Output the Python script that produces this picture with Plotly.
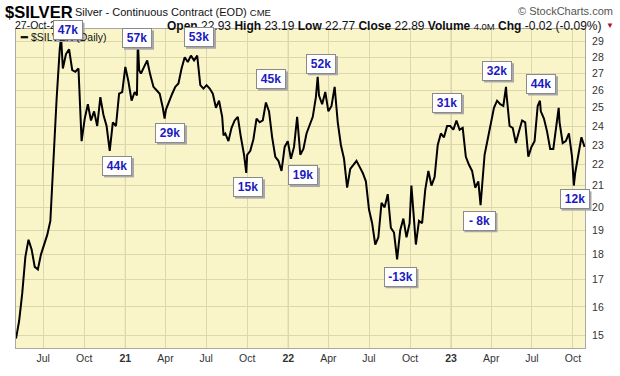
import plotly.graph_objects as go
import pandas as pd
import math

# ---------------- data ----------------
week_start = "2020-05-01"
weekly_close = [
    14.9, 15.5, 16.5, 17.9, 18.6, 18.2, 17.5, 17.4, 18.0, 18.4,
    18.8, 19.4, 22.6, 25.5, 28.5, 27.3, 28.2, 28.5, 27.2, 27.1,
    27.3, 23.2, 24.4, 25.2, 24.3, 24.8, 24.0, 25.6, 24.6, 24.0,
    22.7, 24.2, 24.0, 25.8, 25.9, 27.4, 26.5, 25.4, 25.9, 29.0,
    27.0, 27.4, 27.8, 26.9, 26.2, 26.0, 25.8, 25.0, 24.9, 25.4,
    25.8, 26.2, 26.4, 27.3, 28.0, 27.7, 28.1, 27.8, 28.1, 26.3,
    26.1, 26.3, 26.1, 25.8, 25.0, 25.4, 24.5, 23.6, 23.2, 23.9,
    24.3, 24.5, 23.4, 22.5, 22.5, 22.7, 23.3, 24.4, 24.2, 24.3,
    25.3, 24.8, 23.4, 22.4, 22.2, 21.7, 22.9, 23.2, 22.3, 22.9,
    24.5, 22.5, 22.8, 23.6, 24.0, 24.5, 25.6, 25.7, 25.2, 25.9,
    24.8, 25.1, 26.2, 24.2, 23.0, 22.3, 20.9, 21.8, 22.0, 22.2,
    21.9, 21.6, 21.2, 19.9, 19.3, 18.4, 18.7, 20.2, 20.0, 20.6,
    19.1, 18.9, 17.8, 19.0, 19.5, 18.7, 19.3, 20.2, 18.4, 19.4,
    19.3, 20.8, 21.7, 21.0, 21.4, 23.0, 23.6, 23.4, 24.0, 24.0,
    23.8, 24.3, 23.8, 23.9, 22.4, 22.0, 21.7, 20.9, 21.2, 20.6,
    22.5, 23.3, 24.1, 25.0, 25.4, 25.2, 25.1, 25.8, 24.0, 23.9,
    23.1, 23.7, 24.3, 24.2, 22.4, 22.9, 23.2, 25.1, 24.8, 24.4,
    23.7, 22.8, 22.8, 24.2, 24.2, 23.1, 23.2, 23.6, 22.4, 21.6,
    22.4, 23.4, 22.9,
]
extra_dates = ["2020-08-10", "2021-01-27", "2021-02-01", "2021-03-30",
               "2021-08-09", "2021-09-29", "2022-03-08", "2022-10-04",
               "2023-03-08", "2023-05-04", "2023-07-19", "2023-08-30",
               "2023-10-03"]
extra_close = [29.3, 25.7, 27.2, 24.4, 23.5, 21.6, 26.8, 21.0,
               20.1, 26.2, 25.4, 25.0, 21.0]

y_ticks = [15, 16, 17, 18, 19, 20, 21, 22, 23, 24, 25, 26, 27, 28, 29]
x_tick_dates = ["2020-07-01", "2020-10-01", "2021-01-01", "2021-04-01",
                "2021-07-01", "2021-10-01", "2022-01-01", "2022-04-01",
                "2022-07-01", "2022-10-01", "2023-01-01", "2023-04-01",
                "2023-07-01", "2023-10-01"]
x_tick_labels = ["Jul", "Oct", "<b>21</b>", "Apr", "Jul", "Oct", "<b>22</b>",
                 "Apr", "Jul", "Oct", "<b>23</b>", "Apr", "Jul", "Oct"]
year_lines = ["2021-01-01", "2022-01-01", "2023-01-01"]

volume_labels = ["47k", "57k", "53k", "44k", "29k", "45k", "15k", "52k",
                 "19k", "-13k", "31k", "- 8k", "32k", "44k", "12k"]

# ---------------- build series ----------------
wdates = pd.date_range(week_start, periods=len(weekly_close), freq="7D")
s = pd.Series(weekly_close, index=wdates)
s = pd.concat([s, pd.Series(extra_close, index=pd.to_datetime(extra_dates))]).sort_index()

# ---------------- geometry (pixels) ----------------
W, H = 620, 376
L, R, T, B = 16, 585, 29, 360
PW, PH = R - L, B - T
def px(x): return (x - L) / PW
def py(y): return (B - y) / PH

label_pos = [(67.5, 30.5), (137, 38.5), (199, 37.5), (117, 171), (170, 137),
             (271, 81), (248, 193), (321, 65), (303, 181), (400, 286),
             (447, 105.5), (479, 228), (497, 72.5), (541, 86), (574.5, 205.5)]

FONT = "Arial, Liberation Sans, sans-serif"

fig = go.Figure()
fig.add_trace(go.Scatter(x=s.index, y=s.values, mode="lines",
                         line=dict(color="black", width=2), hoverinfo="skip"))

grid = "#DCD8AE"
fig.update_layout(
    width=W, height=H, autosize=False,
    margin=dict(l=L, r=W - R, t=T, b=H - B, pad=0),
    paper_bgcolor="white", plot_bgcolor="#F9F5C9",
    showlegend=False,
    font=dict(family=FONT, color="#222"),
    xaxis=dict(type="date", range=["2020-05-01", "2023-10-28"],
               tickmode="array", tickvals=x_tick_dates, ticktext=x_tick_labels,
               showgrid=True, gridcolor=grid, gridwidth=1,
               showline=True, linecolor="#A8A8A8", mirror=True,
               ticks="", tickfont=dict(size=10.5, color="#333", family=FONT),
               zeroline=False, fixedrange=True),
    yaxis=dict(type="log", side="right",
               range=[math.log10(14.59), math.log10(29.83)],
               tickmode="array", tickvals=y_ticks, ticktext=[str(v) for v in y_ticks],
               showgrid=True, gridcolor=grid, gridwidth=1,
               showline=True, linecolor="#A8A8A8", mirror=True,
               ticks="", ticklabelstandoff=4,
               tickfont=dict(size=10.5, color="#333", family=FONT),
               zeroline=False, fixedrange=True),
)

for d in year_lines:
    fig.add_shape(type="line", xref="x", yref="paper", x0=d, x1=d, y0=0, y1=1,
                  line=dict(color="#C9C59C", width=1), layer="below")

ann = []
def txt(x, y, text, size, anchor="left", color="#111", **kw):
    ann.append(dict(xref="paper", yref="paper", x=px(x), y=py(y), text=text,
                    showarrow=False, xanchor=anchor, yanchor="middle",
                    font=dict(size=size, color=color, family=FONT), **kw))

txt(3, 11, "<b>$SILVER</b>", 16.5, color="#000")
txt(73, 11.5, "Silver - Continuous Contract (EOD) <span style='font-size:9.5px'>CME</span>", 11)
txt(615, 10, "© StockCharts.com", 11, anchor="right", color="#555")
txt(13, 25, "27-Oct-2023", 10.5)
txt(603, 25.5, "<b>Open</b> 22.93 <b>High</b> 23.19 <b>Low</b> 22.77 <b>Close</b> 22.89 "
             "<b>Volume</b> <span style='font-size:9.5px'>4.0M</span> <b>Chg</b> -0.02 (-0.09%)",
    12, anchor="right")
txt(610, 25.5, "▼", 8, anchor="center", color="#B01030")
txt(18, 37, "<b>━</b> $SILVER (Daily)", 10.5)

for lab, (cx, cy) in zip(volume_labels, label_pos):
    w = 29 if "-" in lab else 26
    bw, bh = w + 4, 20
    # drop shadow of the label box
    fig.add_shape(type="rect", xref="paper", yref="paper",
                  x0=px(cx - bw / 2 + 2), x1=px(cx + bw / 2 + 2),
                  y0=py(cy + bh / 2 + 2), y1=py(cy - bh / 2 + 2),
                  fillcolor="#A8A8A8", line=dict(width=0), layer="above")
    ann.append(dict(xref="paper", yref="paper", x=px(cx), y=py(cy), text="<b>" + lab + "</b>",
                    showarrow=False, xanchor="center", yanchor="middle",
                    width=w, height=16, borderpad=1,
                    bgcolor="white", bordercolor="#8A8A8A", borderwidth=1,
                    font=dict(size=12, color="#1B1BC0", family=FONT)))

fig.update_layout(annotations=ann)
fig.write_html("out.html", config={"displayModeBar": False, "staticPlot": True},
               post_script="document.body.style.margin='0';")
